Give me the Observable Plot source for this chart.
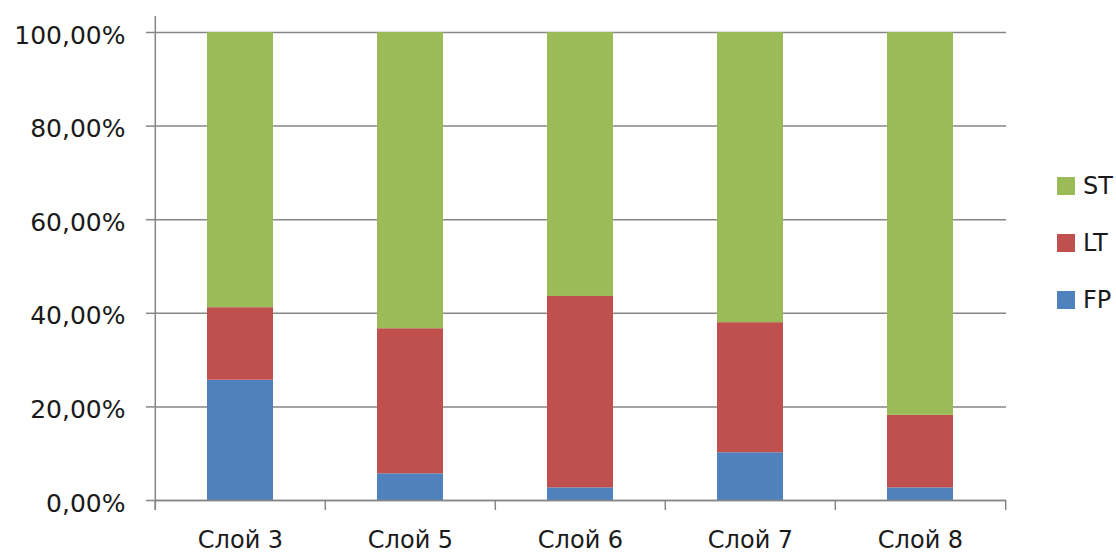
<!DOCTYPE html>
<html><head><meta charset="utf-8">
<script src="https://cdn.jsdelivr.net/npm/d3@7"></script>
<script src="https://cdn.jsdelivr.net/npm/@observablehq/plot@0.6"></script>
<style>
body{margin:0;background:#fff;}
#wrap{position:relative;width:1116px;height:554px;font-family:"DejaVu Sans",sans-serif;color:#1a1a1a;}
#legend{position:absolute;left:1057px;top:157px;}
.item{display:flex;align-items:center;height:57px;font-size:24px;}
.sw{width:18px;height:18px;margin-right:8px;}
</style>
</head><body>
<div id="wrap"><div id="chart"></div><div id="legend"></div></div>
<script>
const categories = ["Слой 3","Слой 5","Слой 6","Слой 7","Слой 8"];
const seriesNames = ["FP","LT","ST"];
const fpValues = [25.7, 5.7, 2.7, 10.2, 2.7];
const ltValues = [15.5, 31.0, 40.9, 27.8, 15.5];
const stValues = [58.8, 63.3, 56.4, 62.0, 81.8];
const seriesColors = ["#4F81BD","#C0504D","#9BBB59"];
const yTicks = [0, 20, 40, 60, 80, 100];
const yTickLabels = ["0,00%","20,00%","40,00%","60,00%","80,00%","100,00%"];
const legendOrder = ["ST","LT","FP"];

const seriesValues = [fpValues, ltValues, stValues];
const data = [];
seriesNames.forEach((s, si) => categories.forEach((c, ci) => data.push({cat: c, series: s, value: seriesValues[si][ci]})));

const W = 1116, H = 554, mL = 154, mR = 110, mT = 32, mB = 54;
const step = (W - mL - mR) / categories.length;
const grid = "#868686";
const ink = "#1a1a1a";

const chart = Plot.plot({
  width: W, height: H, marginLeft: mL, marginRight: mR, marginTop: mT, marginBottom: mB,
  x: {domain: categories, paddingInner: 0.613, paddingOuter: 0.3065, axis: null, label: null},
  y: {domain: [0, 100], axis: null, label: null},
  color: {domain: seriesNames, range: seriesColors},
  style: {fontFamily: "DejaVu Sans", fontSize: "24px", color: ink, background: "#fff", overflow: "visible"},
  marks: [
    Plot.ruleY(yTicks, {stroke: grid, strokeWidth: 1.5}),
    Plot.barY(data, {x: "cat", y: "value", fill: "series"}),
    Plot.ruleY([0], {stroke: grid, strokeWidth: 1.5}),
    Plot.ruleX([categories[0]], {x: d => d, dx: -step / 2, stroke: grid, strokeWidth: 1.5, insetTop: -16, insetBottom: -10}),
    Plot.axisY({ticks: yTicks, tickFormat: d => yTickLabels[yTicks.indexOf(d)], tickSize: 8, tickPadding: 21, stroke: grid, strokeWidth: 1.5, fill: "none", label: null}),
    Plot.axisY({ticks: yTicks, tickFormat: d => yTickLabels[yTicks.indexOf(d)], tickSize: 0, tickPadding: 29, dy: 3, fill: ink, fontSize: 25, label: null}),
    Plot.axisX({ticks: categories, tickSize: 10, dx: -step / 2, stroke: grid, strokeWidth: 1.5, fill: "none", label: null}),
    Plot.axisX({ticks: [categories[categories.length - 1]], tickSize: 10, dx: step / 2, stroke: grid, strokeWidth: 1.5, fill: "none", label: null}),
    Plot.axisX({tickSize: 0, tickPadding: 30, fill: ink, fontSize: 24, label: null})
  ]
});
document.getElementById("chart").appendChild(chart);

const color = chart.scale("color");
const legend = document.getElementById("legend");
legendOrder.forEach(s => {
  const item = document.createElement("div");
  item.className = "item";
  const sw = document.createElement("div");
  sw.className = "sw";
  sw.style.background = color.range[color.domain.indexOf(s)];
  const t = document.createElement("span");
  t.textContent = s;
  item.appendChild(sw); item.appendChild(t);
  legend.appendChild(item);
});
</script>
</body></html>
